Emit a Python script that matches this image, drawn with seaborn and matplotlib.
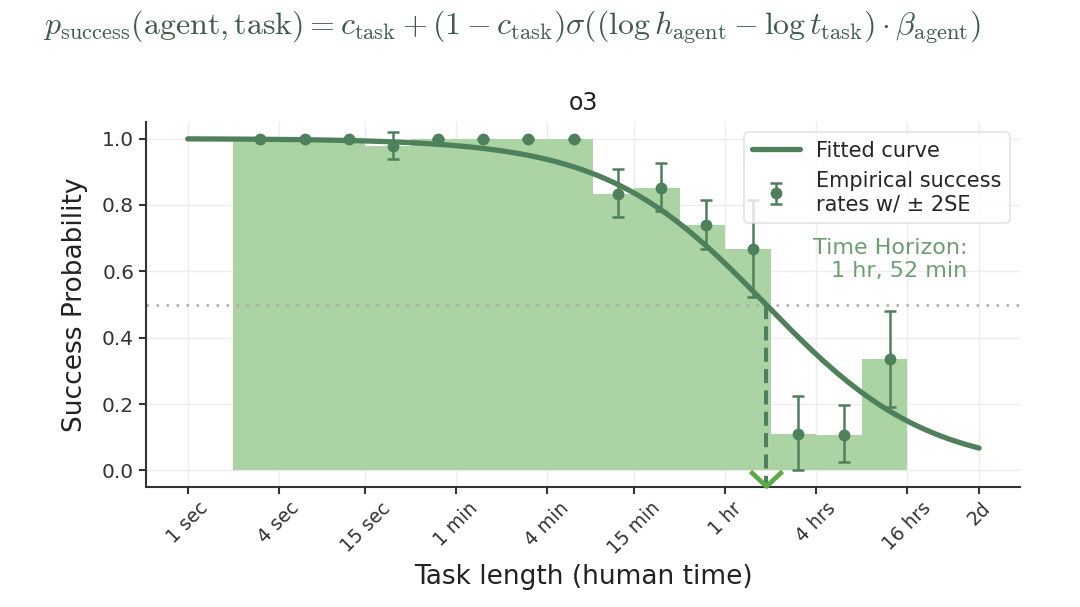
import numpy as np
import seaborn as sns
import matplotlib.pyplot as plt
from matplotlib.path import Path

# task length bins (seconds) and empirical success rates
bin_edges = [2, 4, 8, 15, 30, 60, 120, 240, 480, 900, 1800, 3600, 7200, 14400, 28800, 57600]
pt_seconds = [3, 6, 11.7, 23, 45.6, 90, 180, 360, 700, 1350, 2700, 5480, 11000, 22000, 44200]
pt_rates = [1.0, 1.0, 1.0, 0.978, 1.0, 1.0, 1.0, 1.0, 0.833, 0.851, 0.740, 0.666, 0.111, 0.108, 0.336]
pt_low = [1.0, 1.0, 1.0, 0.94, 1.0, 1.0, 1.0, 1.0, 0.764, 0.781, 0.666, 0.523, 0.0, 0.024, 0.19]
pt_high = [1.0, 1.0, 1.0, 1.02, 1.0, 1.0, 1.0, 1.0, 0.907, 0.925, 0.816, 0.814, 0.223, 0.198, 0.481]

# fitted logistic (c_task = 0)
horizon_sec = 6720        # 1 hr 52 min
beta_agent = 0.81         # per ln-unit
curve_start, curve_end = 1, 172800

tick_secs = [1, 4, 15, 60, 240, 900, 3600, 14400, 57600, 172800]
tick_labels = ['1 sec', '4 sec', '15 sec', '1 min', '4 min', '15 min', '1 hr', '4 hrs', '16 hrs', '2d']

dark_green = '#4f805c'
bar_green = '#abd3a3'

sns.set_theme(style='ticks', rc={'axes.grid': True, 'grid.color': '#ededed', 'grid.linewidth': 1.0})
plt.rcParams['font.family'] = ['DejaVu Sans']
plt.rcParams['mathtext.fontset'] = 'cm'

fig = plt.figure(figsize=(10.8, 6.07), dpi=100)
ax = fig.add_axes([0.1352, 0.1977, 0.8092, 0.6013])

sns.histplot(x=pt_seconds, weights=pt_rates, bins=list(np.log10(bin_edges)), log_scale=True,
             stat='count', color=bar_green, alpha=1, linewidth=0, ax=ax, zorder=1)

curve_t = np.geomspace(curve_start, curve_end, 300)
curve_p = 1 / (1 + np.exp(-(np.log(horizon_sec) - np.log(curve_t)) * beta_agent))
sns.lineplot(x=curve_t, y=curve_p, color=dark_green, linewidth=3.8, ax=ax,
             label='Fitted curve', zorder=4)

rates = np.array(pt_rates)
yerr = [rates - np.array(pt_low), np.array(pt_high) - rates]
ax.errorbar(pt_seconds, rates, yerr=yerr, fmt='o', color=dark_green, ms=7.5,
            elinewidth=1.8, capsize=4.5, capthick=1.8, zorder=5,
            label='Empirical success\nrates w/ ± 2SE')

ax.axhline(0.5, color='#aaaaaa', linestyle=(0, (1, 3)), linewidth=1.8, zorder=2)
ax.plot([horizon_sec, horizon_sec], [0.5, -0.048], color=dark_green,
        linestyle=(0, (3.5, 1.8)), linewidth=2.9, zorder=3)
chevron = Path([(-1, 0.94), (0, 0), (1, 0.94)], [Path.MOVETO, Path.LINETO, Path.LINETO])
ax.plot([horizon_sec], [-0.048], marker=chevron, ms=23, mfc='none', mec='#5aab45',
        mew=3.4, linestyle='none', zorder=6, clip_on=False)

ax.text(143900, 0.635, 'Time Horizon:\n1 hr, 52 min', ha='right', va='center',
        multialignment='right', fontsize=16, color='#6c9f70')

ax.set_xscale('log')
ax.set_xlim(0.53, 3.22e5)
ax.set_ylim(-0.05, 1.05)
ax.set_xticks(tick_secs)
ax.set_xticklabels(tick_labels, rotation=45, fontsize=13.5, color='#333333')
ax.minorticks_off()
ax.set_yticks([0, 0.2, 0.4, 0.6, 0.8, 1.0])
ax.set_yticklabels(['0.0', '0.2', '0.4', '0.6', '0.8', '1.0'], fontsize=14.5, color='#333333')
ax.tick_params(axis='both', length=5, width=1.5, color='#333333')
for s in ['left', 'bottom']:
    ax.spines[s].set_linewidth(1.5)
    ax.spines[s].set_color('#333333')
sns.despine(ax=ax)

ax.set_xlabel('Task length (human time)', fontsize=19, color='#222222')
ax.set_ylabel('Success Probability', fontsize=19, color='#222222', labelpad=10)
ax.set_title('o3', fontsize=17, color='#222222', pad=9)

leg = ax.legend(loc='upper right', fontsize=15, frameon=True, edgecolor='#dddddd',
                handlelength=2.3, handletextpad=0.75, borderaxespad=0.5)
leg.get_frame().set_linewidth(1.2)

formula = (r'$p_{\mathrm{success}}(\mathrm{agent}, \mathrm{task}) = c_{\mathrm{task}}'
           r' + (1 - c_{\mathrm{task}})\sigma((\log h_{\mathrm{agent}} - \log t_{\mathrm{task}})'
           r' \cdot \beta_{\mathrm{agent}})$')
fig.text(0.04, 0.955, formula, fontsize=23, color='#3d5a4b', ha='left', va='center')

fig.savefig('out.png', dpi=100)
